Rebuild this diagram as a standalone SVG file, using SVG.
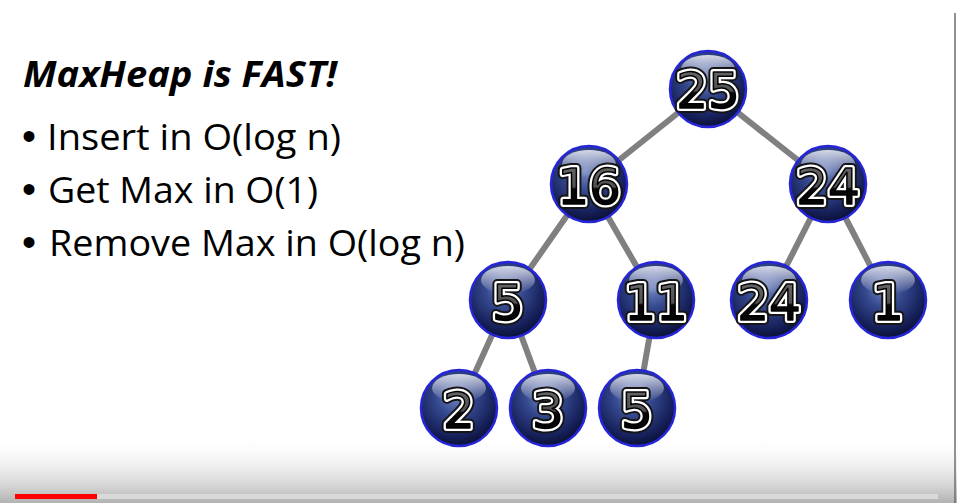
<svg xmlns="http://www.w3.org/2000/svg" width="957" height="503" viewBox="0 0 957 503">
  <defs>
    <linearGradient id="bottomShade" x1="0" y1="0" x2="0" y2="1">
      <stop offset="0" stop-color="#ffffff" stop-opacity="0"/>
      <stop offset="1" stop-color="#b2b2b2" stop-opacity="1"/>
    </linearGradient>
    <radialGradient id="ballFill" cx="0.45" cy="0.35" r="0.7">
      <stop offset="0" stop-color="#7084bf"/>
      <stop offset="0.35" stop-color="#35498f"/>
      <stop offset="0.75" stop-color="#16205a"/>
      <stop offset="1" stop-color="#070b28"/>
    </radialGradient>
    <linearGradient id="gloss" x1="0" y1="0" x2="0" y2="1">
      <stop offset="0" stop-color="#ffffff" stop-opacity="0.8"/>
      <stop offset="1" stop-color="#ffffff" stop-opacity="0"/>
    </linearGradient>
    <linearGradient id="digitFill" x1="0" y1="0" x2="0" y2="1">
      <stop offset="0" stop-color="#707070"/>
      <stop offset="0.5" stop-color="#505050"/>
      <stop offset="0.53" stop-color="#080808"/>
      <stop offset="1" stop-color="#000000"/>
    </linearGradient>
    <g id="ball">
      <circle r="38" fill="url(#ballFill)" stroke="#2626d8" stroke-width="2.5"/>
      <ellipse cx="0" cy="-20" rx="27" ry="14" fill="url(#gloss)"/>
    </g>
  </defs>
  <style>
    .title { font-family: "Open Sans", "Liberation Sans", sans-serif; font-weight: bold; font-style: italic; font-size: 36px; fill: #000; }
    .item { font-family: "Open Sans", "Liberation Sans", sans-serif; font-size: 37px; fill: #000; }
    .dot { font-family: "Liberation Sans", sans-serif; font-size: 40px; fill: #000; }
    .edge { stroke: #808080; stroke-width: 6; stroke-linecap: butt; }
    .n { font-family: "DejaVu Sans", sans-serif; font-size: 50px; text-anchor: middle; stroke-linejoin: round; }
    .n1 { fill: #151515; stroke: #151515; stroke-width: 10; }
    .n2 { fill: #000; stroke: #ffffff; stroke-width: 6; }
    .n3 { fill: url(#digitFill); stroke: #000; stroke-width: 1.5; }
  </style>

  <rect width="957" height="503" fill="#ffffff"/>
  <rect x="0" y="435" width="957" height="68" fill="url(#bottomShade)"/>

  <!-- heading and bullet list -->
  <text class="title" x="23" y="87" textLength="314" lengthAdjust="spacingAndGlyphs">MaxHeap is FAST!</text>
  <text class="dot" x="22" y="150">•</text>
  <text class="item" x="47" y="150" textLength="294" lengthAdjust="spacingAndGlyphs">Insert in O(log n)</text>
  <text class="dot" x="22" y="203">•</text>
  <text class="item" x="48" y="203" textLength="270" lengthAdjust="spacingAndGlyphs">Get Max in O(1)</text>
  <text class="dot" x="22" y="256">•</text>
  <text class="item" x="49" y="256" textLength="416" lengthAdjust="spacingAndGlyphs">Remove Max in O(log n)</text>

  <!-- tree edges -->
  <g id="connectors">
    <line class="edge" x1="708" y1="89" x2="589" y2="184"/>
    <line class="edge" x1="708" y1="89" x2="828" y2="184"/>
    <line class="edge" x1="589" y1="184" x2="508" y2="300"/>
    <line class="edge" x1="589" y1="184" x2="656" y2="300"/>
    <line class="edge" x1="828" y1="184" x2="769" y2="300"/>
    <line class="edge" x1="828" y1="184" x2="888" y2="300"/>
    <line class="edge" x1="508" y1="300" x2="459" y2="408"/>
    <line class="edge" x1="508" y1="300" x2="548" y2="408"/>
    <line class="edge" x1="656" y1="300" x2="637" y2="408"/>
  </g>

  <!-- heap nodes: ball, then number drawn in three layers (dark rim, white rim, shaded fill) -->
  <g id="node-25" transform="translate(708,89)">
    <use href="#ball"/>
    <text class="n n1" y="19">25</text><text class="n n2" y="19">25</text><text class="n n3" y="19">25</text>
  </g>
  <g id="node-16" transform="translate(589,184)">
    <use href="#ball"/>
    <text class="n n1" y="20">16</text><text class="n n2" y="20">16</text><text class="n n3" y="20">16</text>
  </g>
  <g id="node-24a" transform="translate(828,184)">
    <use href="#ball"/>
    <text class="n n1" y="20">24</text><text class="n n2" y="20">24</text><text class="n n3" y="20">24</text>
  </g>
  <g id="node-5a" transform="translate(508,300)">
    <use href="#ball"/>
    <text class="n n1" y="20">5</text><text class="n n2" y="20">5</text><text class="n n3" y="20">5</text>
  </g>
  <g id="node-11" transform="translate(656,300)">
    <use href="#ball"/>
    <text class="n n1" y="20">11</text><text class="n n2" y="20">11</text><text class="n n3" y="20">11</text>
  </g>
  <g id="node-24b" transform="translate(769,300)">
    <use href="#ball"/>
    <text class="n n1" y="20">24</text><text class="n n2" y="20">24</text><text class="n n3" y="20">24</text>
  </g>
  <g id="node-1" transform="translate(888,300)">
    <use href="#ball"/>
    <text class="n n1" y="20">1</text><text class="n n2" y="20">1</text><text class="n n3" y="20">1</text>
  </g>
  <g id="node-2" transform="translate(459,408)">
    <use href="#ball"/>
    <text class="n n1" y="20">2</text><text class="n n2" y="20">2</text><text class="n n3" y="20">2</text>
  </g>
  <g id="node-3" transform="translate(548,408)">
    <use href="#ball"/>
    <text class="n n1" y="20">3</text><text class="n n2" y="20">3</text><text class="n n3" y="20">3</text>
  </g>
  <g id="node-5b" transform="translate(637,408)">
    <use href="#ball"/>
    <text class="n n1" y="20">5</text><text class="n n2" y="20">5</text><text class="n n3" y="20">5</text>
  </g>

  <!-- player progress bar and frame edge -->
  <rect x="15" y="494" width="923" height="5" fill="#d9d9d9"/>
  <rect x="15" y="494" width="82" height="5" fill="#ff0000"/>
  <line x1="955" y1="13" x2="955" y2="503" stroke="#6e6e6e" stroke-width="1.5"/>
</svg>
